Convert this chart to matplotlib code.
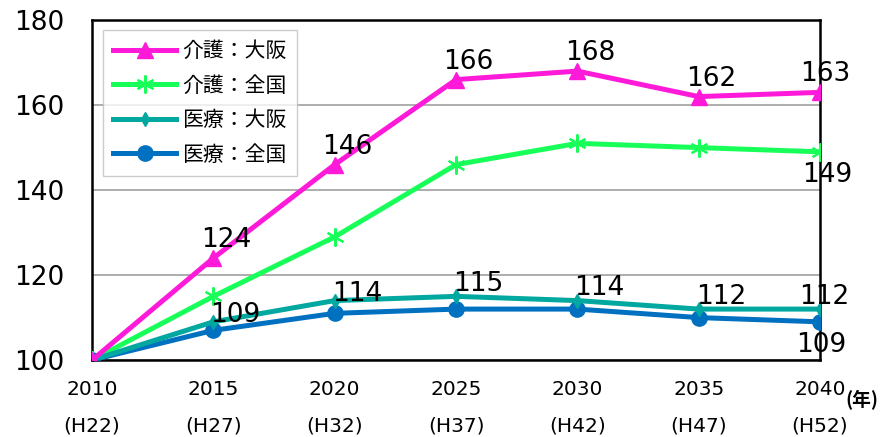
import matplotlib.pyplot as plt
import numpy as np

plt.rcParams['font.family'] = ['DejaVu Sans', 'Noto Sans CJK JP']

# Data (index, 2010 = 100)
years = ["2010", "2015", "2020", "2025", "2030", "2035", "2040"]
heisei = ["(H22)", "(H27)", "(H32)", "(H37)", "(H42)", "(H47)", "(H52)"]

kaigo_osaka = [100, 124, 146, 166, 168, 162, 163]
kaigo_zenkoku = [100, 115, 129, 146, 151, 150, 149]
iryo_osaka = [100, 109, 114, 115, 114, 112, 112]
iryo_zenkoku = [100, 107, 111, 112, 112, 110, 109]

labels = ["介護：大阪", "介護：全国", "医療：大阪", "医療：全国"]

fig = plt.figure(figsize=(8.9, 4.37), dpi=100)
ax = fig.add_axes([0.1034, 0.176, 0.818, 0.778])

x = np.arange(len(years))

ax.plot(x, kaigo_osaka, color="#FF19D9", lw=3.6, marker="^", ms=11, label=labels[0], zorder=5)
ax.plot(x, kaigo_zenkoku, color="#19FF5A", lw=3.6, marker=(6, 2, 0), ms=13, mew=1.5, label=labels[1], zorder=4)
ax.plot(x, iryo_osaka, color="#00A8A0", lw=3.6, marker="d", ms=7, label=labels[2], zorder=4)
ax.plot(x, iryo_zenkoku, color="#0070C0", lw=3.6, marker="o", ms=11, label=labels[3], zorder=3)

fs = 19
# data labels
for i in range(1, len(x)):
    dx = 9 if i < len(x) - 1 else 4
    ax.annotate(str(kaigo_osaka[i]), (x[i], kaigo_osaka[i]), xytext=(dx, 13),
                textcoords="offset points", ha="center", va="center", fontsize=fs, zorder=10)
    dx2 = 16 if i < len(x) - 1 else 3
    dy2 = 5 if i < 3 else 9
    ax.annotate(str(iryo_osaka[i]), (x[i], iryo_osaka[i]), xytext=(dx2, dy2),
                textcoords="offset points", ha="center", va="center", fontsize=fs, zorder=10)
ax.annotate(str(kaigo_zenkoku[-1]), (x[-1], kaigo_zenkoku[-1]), xytext=(5, -17),
            textcoords="offset points", ha="center", va="center", fontsize=fs, zorder=10)
ax.annotate(str(iryo_zenkoku[-1]), (x[-1], iryo_zenkoku[-1]), xytext=(1, -17),
            textcoords="offset points", ha="center", va="center", fontsize=fs, zorder=10)

ax.set_xlim(0, len(x) - 1)
ax.set_ylim(100, 180)
ax.set_yticks([100, 120, 140, 160, 180])
ax.tick_params(axis="y", length=0, pad=20, labelsize=fs)
ax.set_xticks(x)
ax.set_xticklabels([f"{y}\n{h}" for y, h in zip(years, heisei)], fontsize=14.5, linespacing=2.2)
ax.tick_params(axis="x", length=0, pad=14)
ax.yaxis.grid(True, color="#A0A0A0", lw=1.2)
ax.set_axisbelow(True)
for s in ax.spines.values():
    s.set_linewidth(1.8)
    s.set_color("black")

ax.text(1.035, -0.118, "(年)", transform=ax.transAxes, fontsize=13.5, fontweight="bold",
        ha="left", va="center", family=["Noto Sans CJK JP", "DejaVu Sans"])

leg = ax.legend(loc="upper left", bbox_to_anchor=(0.015, 0.972), fancybox=False,
                edgecolor="#C0C0C0", handlelength=3.0, labelspacing=0.6,
                borderpad=0.5, handletextpad=0.3, borderaxespad=0,
                prop={"family": ["Noto Sans CJK JP", "DejaVu Sans"], "size": 15})
leg.get_frame().set_linewidth(1.0)

fig.savefig("out.png", dpi=100)
